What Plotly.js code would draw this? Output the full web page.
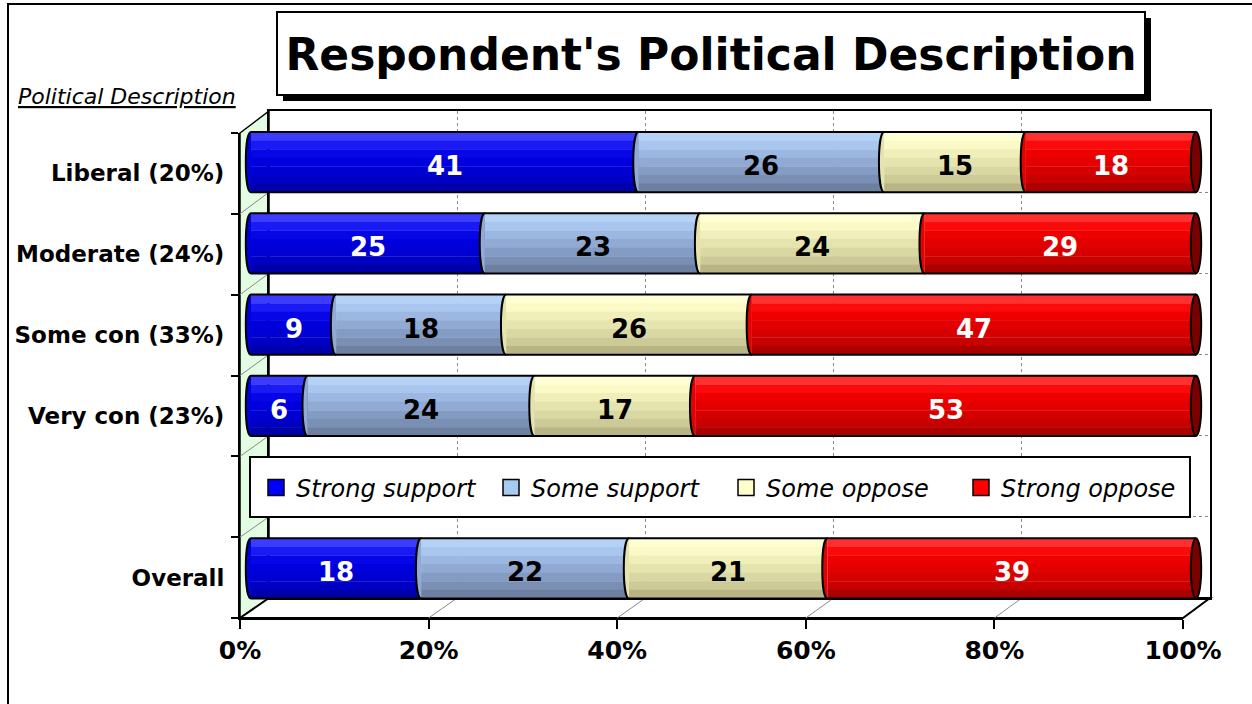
<!DOCTYPE html>
<html><head><meta charset="utf-8">
<script src="https://cdn.plot.ly/plotly-3.0.1.min.js"></script>
<style>html,body{margin:0;padding:0;background:#fff}#chart{width:1252px;height:704px}</style>
</head><body><div id="chart"></div>
<script>
// ---- data ----
const categories = ["Liberal (20%)", "Moderate (24%)", "Some con (33%)", "Very con (23%)", " ", "Overall"];
const seriesNames = ["Strong support", "Some support", "Some oppose", "Strong oppose"];
const strongSupport = [41, 25, 9, 6, null, 18];
const someSupport   = [26, 23, 18, 24, null, 22];
const someOppose    = [15, 24, 26, 17, null, 21];
const strongOppose  = [18, 29, 47, 53, null, 39];
const xTickVals = [0, 20, 40, 60, 80, 100];
const xTickText = ["0%", "20%", "40%", "60%", "80%", "100%"];
const chartTitle = "Respondent's Political Description";
const axisTitle = "Political Description";

// ---- style ----
const W = 1252, H = 704;
const FONT = "Tahoma, 'DejaVu Sans', Verdana, sans-serif";
const X = p => p / W, Y = p => 1 - p / H;
const FRONT = {x0: 240, x1: 1183, y0: 133, y1: 618};
const BACK  = {x0: 269, x1: 1210, y0: 111, y1: 598};
const PAD = 1.5;                       // x-range padding so cylinder ends are not clipped
const UNIT = (1196 - 251) / 100;
const BARS  = {x0: 251 - PAD * UNIT, x1: 1196 + PAD * UNIT, y0: 121.5, y1: 609};
const bandColors = [
  ['#3c3cff','#1a1af4','#0606e6','#0000dc','#0000d2','#0000c4','#0000aa'],
  ['#b4d2f6','#a8c6ee','#9cb8e2','#90aad4','#849cc4','#7a8fb4','#6e80a0'],
  ['#ffffd4','#fbfac6','#f0efba','#e6e4ae','#dad8a2','#ccca96','#b8b484'],
  ['#ff3030','#fa0a0a','#ee0000','#e20000','#d60000','#c80000','#aa0000']
];
const legendColors = ['#0000ff', '#a6caf0', '#ffffcc', '#ff0000'];
const capColor = '#7a0000';
const labelColors = ['white', 'black', 'black', 'white'];
const BAR_W = 0.74, R = 0.55, K = 4 * R / 3;

const series = [strongSupport, someSupport, someOppose, strongOppose];
const rows = categories.map((c, i) => i).filter(i => series[0][i] !== null);
const totals = rows.map(i => series.reduce((s, a) => s + a[i], 0));

const traces = [];
const shapes = [];
const labels = [];
// helper traces so the back-wall (x/y) and front-axis (x2/y2) subplots get drawn
traces.push({type: 'scatter', mode: 'markers', xaxis: 'x', yaxis: 'y', x: [null], y: [null], showlegend: false, hoverinfo: 'skip'});
traces.push({type: 'scatter', mode: 'markers', xaxis: 'x2', yaxis: 'y2', x: [null], y: [null], showlegend: false, hoverinfo: 'skip'});

const starts = series.map(() => []), lens = series.map(() => []);
rows.forEach((i, ri) => {
  let cum = 0;
  series.forEach((a, s) => {
    const len = a[i] / totals[ri] * 100;
    starts[s].push(cum); lens[s].push(len); cum += len;
  });
});

// cylinder bands
series.forEach((a, s) => {
  const nb = bandColors[s].length, bw = BAR_W / nb;
  for (let b = 0; b < nb; b++) {
    traces.push({
      type: 'bar', orientation: 'h', xaxis: 'x3', yaxis: 'y3',
      y: rows.map(i => categories[i]), x: lens[s], base: starts[s],
      width: bw + 0.004, offset: -BAR_W / 2 + b * bw,
      marker: {color: bandColors[s][b], line: {width: 0}},
      showlegend: false, hoverinfo: 'skip'
    });
  }
});
// value labels
series.forEach((a, s) => {
  rows.forEach((i, ri) => {
    labels.push({xref: 'x3', yref: 'y3', x: starts[s][ri] + lens[s][ri] / 2, y: i,
      text: String(a[i]), showarrow: false, yshift: -4,
      font: {family: FONT, size: 26, weight: 'bold', color: labelColors[s]}});
  });
});
// legend entries
series.forEach((a, s) => {
  traces.push({
    type: 'scatter', mode: 'markers', xaxis: 'x3', yaxis: 'y3',
    x: [null], y: [null], name: seriesNames[s],
    marker: {symbol: 'square', size: 16, color: legendColors[s], line: {color: 'black', width: 1.5}},
    showlegend: true, hoverinfo: 'skip'
  });
});

// cylinder outlines, faces and caps
rows.forEach((i, ri) => {
  const y0 = i - BAR_W / 2, y1 = i + BAR_W / 2;
  series.forEach((a, s) => {
    const b = starts[s][ri];
    const p = `M ${b},${y0} C ${b - K},${y0} ${b - K},${y1} ${b},${y1}`;
    shapes.push({type: 'path', xref: 'x3', yref: 'y3', path: p + ' Z',
      fillcolor: bandColors[s][3], line: {width: 0}});
    shapes.push({type: 'path', xref: 'x3', yref: 'y3', path: p,
      fillcolor: 'rgba(0,0,0,0)', line: {color: 'black', width: 2}});
  });
  shapes.push({type: 'line', xref: 'x3', yref: 'y3', x0: 0, x1: 100, y0: y0, y1: y0, line: {color: 'black', width: 2}});
  shapes.push({type: 'line', xref: 'x3', yref: 'y3', x0: 0, x1: 100, y0: y1, y1: y1, line: {color: 'black', width: 2}});
  shapes.push({type: 'circle', xref: 'x3', yref: 'y3', x0: 100 - R, x1: 100 + R, y0: y0, y1: y1,
    fillcolor: capColor, line: {color: 'black', width: 2}});
});

// frame decorations (paper coords)
const dec = [];
dec.push({type: 'rect', xref: 'paper', yref: 'paper', x0: X(8), y0: Y(4), x1: 1.05, y1: -0.05,
  line: {color: 'black', width: 2}, fillcolor: 'rgba(0,0,0,0)', layer: 'below'});
// left wall
dec.push({type: 'path', xref: 'paper', yref: 'paper', layer: 'below',
  path: `M ${X(FRONT.x0)},${Y(FRONT.y0)} L ${X(BACK.x0)},${Y(BACK.y0)} L ${X(BACK.x0)},${Y(BACK.y1)} L ${X(FRONT.x0)},${Y(FRONT.y1)} Z`,
  fillcolor: '#e2fde2', line: {color: 'black', width: 1.5}});
for (let k = 1; k < 6; k++) {
  const by = BACK.y0 + k * (BACK.y1 - BACK.y0) / 6, fy = FRONT.y0 + k * (FRONT.y1 - FRONT.y0) / 6;
  dec.push({type: 'line', xref: 'paper', yref: 'paper', layer: 'below',
    x0: X(BACK.x0), y0: Y(by), x1: X(FRONT.x0), y1: Y(fy), line: {color: '#8a8a8a', width: 1}});
}
// floor
dec.push({type: 'path', xref: 'paper', yref: 'paper', layer: 'below',
  path: `M ${X(FRONT.x0)},${Y(FRONT.y1)} L ${X(FRONT.x1)},${Y(FRONT.y1)} L ${X(BACK.x1)},${Y(BACK.y1)} L ${X(BACK.x0)},${Y(BACK.y1)} Z`,
  fillcolor: 'white', line: {color: 'black', width: 2}});
xTickVals.slice(1, -1).forEach(v => {
  const bx = BACK.x0 + v / 100 * (BACK.x1 - BACK.x0), fx = FRONT.x0 + v / 100 * (FRONT.x1 - FRONT.x0);
  dec.push({type: 'line', xref: 'paper', yref: 'paper', layer: 'below',
    x0: X(bx), y0: Y(BACK.y1), x1: X(fx), y1: Y(FRONT.y1), line: {color: '#8a8a8a', width: 1}});
});
// title box + shadow
dec.push({type: 'rect', xref: 'paper', yref: 'paper', x0: X(283), y0: Y(18), x1: X(1151), y1: Y(101),
  fillcolor: 'black', line: {width: 0}});
dec.push({type: 'rect', xref: 'paper', yref: 'paper', x0: X(277), y0: Y(12), x1: X(1145), y1: Y(95),
  fillcolor: 'white', line: {color: 'black', width: 2}});
// legend box
dec.push({type: 'rect', xref: 'paper', yref: 'paper', x0: X(250), y0: Y(457), x1: X(1190), y1: Y(517),
  fillcolor: 'white', line: {color: 'black', width: 2}});

const layout = {
  width: W, height: H, margin: {l: 0, r: 0, t: 0, b: 0},
  paper_bgcolor: 'white', plot_bgcolor: 'rgba(0,0,0,0)',
  barmode: 'overlay', hovermode: false,
  font: {family: FONT, color: 'black'},
  title: {text: chartTitle, x: X(711), xanchor: 'center', y: Y(55), yanchor: 'middle',
    xref: 'paper', yref: 'paper', font: {family: FONT, size: 44, weight: 'bold', color: 'black'}},
  // back wall
  xaxis: {domain: [X(BACK.x0), X(BACK.x1)], range: [0, 100], anchor: 'y',
    tickmode: 'array', tickvals: xTickVals.slice(1, -1), showticklabels: false, ticks: '',
    showgrid: true, gridcolor: '#8a8a8a', griddash: 'dot', gridwidth: 1,
    showline: true, mirror: true, linecolor: 'black', linewidth: 2, zeroline: false, fixedrange: true},
  yaxis: {domain: [Y(BACK.y1), Y(BACK.y0)], range: [5.5, -0.5], anchor: 'x',
    tickmode: 'array', tickvals: [0.5, 1.5, 2.5, 3.5, 4.5], showticklabels: false, ticks: '',
    showgrid: true, gridcolor: '#8a8a8a', griddash: 'dot', gridwidth: 1,
    showline: true, mirror: true, linecolor: 'black', linewidth: 2, zeroline: false, fixedrange: true},
  // front axes
  xaxis2: {domain: [X(FRONT.x0), X(FRONT.x1)], range: [0, 100], anchor: 'y2',
    tickmode: 'array', tickvals: xTickVals, ticktext: xTickText,
    ticks: 'outside', ticklen: 9, tickwidth: 2, tickcolor: 'black',
    showline: true, linecolor: 'black', linewidth: 2, showgrid: false, zeroline: false,
    tickfont: {family: FONT, size: 25, weight: 'bold', color: 'black'}, fixedrange: true},
  yaxis2: {domain: [Y(FRONT.y1), Y(FRONT.y0)], range: [5.5, -0.5], anchor: 'x2',
    tickmode: 'array', tickvals: categories.map((c, i) => i), ticktext: categories,
    ticks: '', showline: true, linecolor: 'black', linewidth: 2, showgrid: false, zeroline: false,
    ticklabelstandoff: 9,
    minor: {tickmode: 'array', tickvals: [-0.5, 0.5, 1.5, 2.5, 3.5, 4.5, 5.5], ticks: 'outside', ticklen: 7,
      tickwidth: 2, tickcolor: 'black', showgrid: false},
    tickfont: {family: FONT, size: 23, weight: 'bold', color: 'black'}, fixedrange: true},
  // bars
  xaxis3: {domain: [X(BARS.x0), X(BARS.x1)], range: [-PAD, 100 + PAD], anchor: 'y3', visible: false, fixedrange: true},
  yaxis3: {domain: [Y(BARS.y1), Y(BARS.y0)], type: 'category', categoryorder: 'array', categoryarray: categories,
    range: [5.5, -0.5], anchor: 'x3', visible: false, fixedrange: true},
  legend: {orientation: 'h', x: X(256), xanchor: 'left', y: Y(488), yanchor: 'middle',
    bgcolor: 'rgba(0,0,0,0)', borderwidth: 0, traceorder: 'normal',
    entrywidth: 190, entrywidthmode: 'pixels',
    font: {family: FONT, size: 24, style: 'italic', color: 'black'}},
  annotations: [{text: '<u>' + axisTitle + '</u>', xref: 'paper', yref: 'paper', x: X(16), y: Y(96),
    xanchor: 'left', yanchor: 'middle', showarrow: false,
    font: {family: FONT, size: 22, style: 'italic', color: 'black'}}].concat(labels),
  shapes: dec.concat(shapes)
};

Plotly.newPlot('chart', traces, layout, {staticPlot: true, displayModeBar: false});
</script>
</body></html>
